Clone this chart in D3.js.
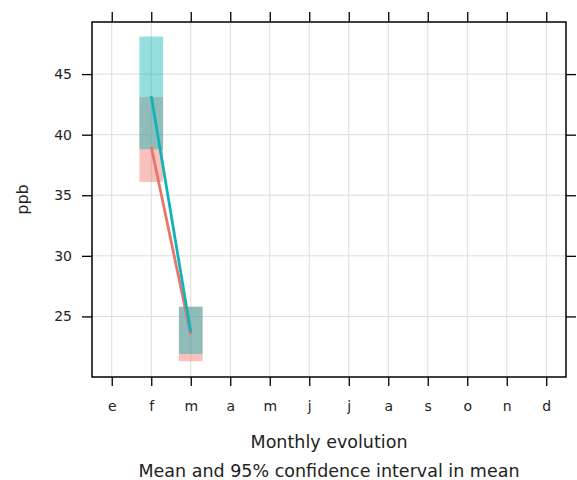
<!DOCTYPE html>
<html>
<head>
<meta charset="utf-8">
<script src="https://cdn.jsdelivr.net/npm/d3@7"></script>
<style>
  body { margin: 0; background: #fff; }
  text { font-family: "DejaVu Sans", Verdana, sans-serif; fill: #222; }
  .grid line { stroke: #dcdcdc; stroke-width: 1; }
  .axis path { display: none; }
  .axis line { stroke: #000; stroke-width: 1.3; }
</style>
</head>
<body>
<div id="chart"></div>
<script>
// Monthly means with 95% CI, two series

// month labels
var months = ["e", "f", "m", "a", "m", "j", "j", "a", "s", "o", "n", "d"];
var yTicks = [25, 30, 35, 40, 45];

// red series (month index 1-based)
var redMonth = [2, 3];
var redMean = [39.0, 23.5];
var redLower = [36.1, 21.3];
var redUpper = [43.1, 25.8];

// teal series
var tealMonth = [2, 3];
var tealMean = [43.2, 23.7];
var tealLower = [38.8, 21.9];
var tealUpper = [48.1, 25.8];

var svgWidth = 577;
var svgHeight = 480;
var margin = { top: 22, right: 11, bottom: 103, left: 92 };
var width = svgWidth - margin.left - margin.right;
var height = svgHeight - margin.top - margin.bottom;

var svg = d3.select("#chart")
  .append("svg")
  .attr("width", svgWidth)
  .attr("height", svgHeight);

var g = svg.append("g")
  .attr("transform", `translate(${margin.left}, ${margin.top})`);

var x = d3.scaleLinear().domain([0.5, 12.5]).range([0, width]);
var y = d3.scaleLinear().domain([20.0, 49.3]).range([height, 0]);

var monthIdx = d3.range(1, 13);

// grid
g.append("g").attr("class", "grid")
  .selectAll("line.v").data(monthIdx).enter().append("line")
  .attr("x1", d => x(d)).attr("x2", d => x(d))
  .attr("y1", 0).attr("y2", height);
g.append("g").attr("class", "grid")
  .selectAll("line.h").data(yTicks).enter().append("line")
  .attr("x1", 0).attr("x2", width)
  .attr("y1", d => y(d)).attr("y2", d => y(d));

// CI boxes
var boxW = x(1.3) - x(1);
function series(months, mean, lower, upper) {
  return months.map((m, i) => ({ m: m, mean: mean[i], lo: lower[i], hi: upper[i] }));
}
var red = series(redMonth, redMean, redLower, redUpper);
var teal = series(tealMonth, tealMean, tealLower, tealUpper);

function drawBoxes(data, color) {
  g.selectAll(null).data(data).enter().append("rect")
    .attr("x", d => x(d.m) - boxW)
    .attr("width", boxW * 2)
    .attr("y", d => y(d.hi))
    .attr("height", d => y(d.lo) - y(d.hi))
    .attr("fill", color)
    .attr("fill-opacity", 0.45);
}
drawBoxes(red, "#F0766D");
drawBoxes(teal, "#12B5B5");

var line = d3.line().x(d => x(d.m)).y(d => y(d.mean));
g.append("path").datum(red).attr("d", line)
  .attr("fill", "none").attr("stroke", "#E8756A").attr("stroke-width", 2.8);
g.append("path").datum(teal).attr("d", line)
  .attr("fill", "none").attr("stroke", "#10B4B8").attr("stroke-width", 2.8);

// frame
g.append("rect").attr("width", width).attr("height", height)
  .attr("fill", "none").attr("stroke", "#000").attr("stroke-width", 1.5);

// axes
var xBottom = d3.axisBottom(x).tickValues(monthIdx)
  .tickFormat(d => months[d - 1]).tickSize(9).tickPadding(15);
g.append("g").attr("class", "axis")
  .attr("transform", `translate(0,${height})`)
  .call(xBottom)
  .selectAll("text").style("font-size", "14px");

g.append("g").attr("class", "axis")
  .call(d3.axisTop(x).tickValues(monthIdx).tickFormat("").tickSize(10));

g.append("g").attr("class", "axis")
  .call(d3.axisLeft(y).tickValues(yTicks).tickSize(10).tickPadding(10))
  .selectAll("text").style("font-size", "14px");

g.append("g").attr("class", "axis")
  .attr("transform", `translate(${width},0)`)
  .call(d3.axisRight(y).tickValues(yTicks).tickFormat("").tickSize(10));

// labels
svg.append("text")
  .attr("transform", "rotate(-90)")
  .attr("x", -(margin.top + height / 2))
  .attr("y", 28)
  .attr("text-anchor", "middle")
  .style("font-size", "16px")
  .text("ppb");

svg.append("text")
  .attr("x", margin.left + width / 2)
  .attr("y", 448)
  .attr("text-anchor", "middle")
  .style("font-size", "17.5px")
  .text("Monthly evolution");

svg.append("text")
  .attr("x", margin.left + width / 2)
  .attr("y", 477)
  .attr("text-anchor", "middle")
  .style("font-size", "17.5px")
  .text("Mean and 95% confidence interval in mean");
</script>
</body>
</html>
